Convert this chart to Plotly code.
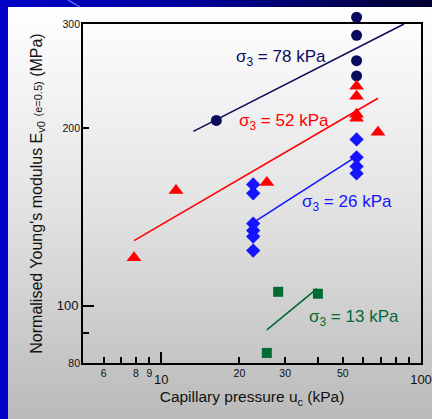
import base64
import math
import plotly.graph_objects as go

# ---- measured data: normalised small-strain Young's modulus vs capillary pressure ----
# sigma3 = 78 kPa
uc_78 = [16.3, 56.5, 56.5, 56.5, 56.5]
E_78 = [206, 308, 287, 260, 245]
fit_uc_78 = [13.3, 86.0]
fit_E_78 = [197.4, 300]

# sigma3 = 52 kPa
uc_52 = [7.86, 11.4, 25.5, 56.5, 56.5, 56.5, 56.5, 68.3]
E_52 = [120.6, 156.7, 161.7, 235.4, 226.3, 211.0, 207.7, 196.7]
fit_uc_52 = [7.86, 68.3]
fit_E_52 = [128.9, 224.6]

# sigma3 = 26 kPa
uc_26 = [22.6, 22.6, 22.6, 22.6, 22.6, 22.6, 56.5, 56.5, 56.5, 56.5]
E_26 = [160.5, 155.0, 137.8, 134.1, 131.0, 124.0, 191.3, 178.4, 172.2, 167.5]
fit_uc_26 = [22.6, 55.7]
fit_E_26 = [138.3, 178.4]

# sigma3 = 13 kPa
uc_13 = [28.2, 40.1, 25.5]
E_13 = [105.6, 104.8, 83.2]
fit_uc_13 = [25.5, 39.8]
fit_E_13 = [91.0, 106.9]

# axis ticks
x_major = [10, 100]
x_small_labels = [6, 8, 9, 20, 30, 50]
x_minor = [6, 7, 8, 9, 20, 30, 40, 50, 60, 70, 80, 90]
y_major = [100]
y_small_labels = [80, 200, 300]
y_minor = [90, 200, 300]

X_RANGE = [math.log10(5), 2.0]
Y_RANGE = [math.log10(80), math.log10(300)]

NAVY = "#0b0b5e"
RED = "#ff0000"
BLUE = "#1414ff"
GREEN = "#006b33"
FONT = "Liberation Sans, Arial, sans-serif"
TXT = "#111111"

W, H = 432, 419
L, R, T, B = 83, 11, 10, 56
FRAME_TOP = 24                      # pixel row of the top frame line
pw, ph = W - L - R, H - T - B
frame_h = H - B - FRAME_TOP
dom_top = frame_h / ph
# markers sit on a taller, hidden axis with the same scale so points above 300 stay visible
per_px = (Y_RANGE[1] - Y_RANGE[0]) / frame_h
Y_MARK_RANGE = [Y_RANGE[0], Y_RANGE[0] + ph * per_px]

fig = go.Figure()

series = [
    (uc_78, E_78, fit_uc_78, fit_E_78, NAVY, "circle", 11),
    (uc_52, E_52, fit_uc_52, fit_E_52, RED, "triangle-up", 13),
    (uc_26, E_26, fit_uc_26, fit_E_26, BLUE, "diamond", 11),
    (uc_13, E_13, fit_uc_13, fit_E_13, GREEN, "square", 10),
]
for xs, ys, fx, fy, col, sym, sz in series:
    fig.add_trace(go.Scatter(x=fx, y=fy, mode="lines", line=dict(color=col, width=1.6),
                             xaxis="x2", yaxis="y2", hoverinfo="skip", cliponaxis=False))
    fig.add_trace(go.Scatter(x=xs, y=ys, mode="markers", yaxis="y3",
                             marker=dict(color=col, symbol=sym, size=sz, line=dict(width=0)),
                             cliponaxis=False))

labels = [
    ("σ<sub>3</sub> = 78 kPa", 28.9, 263.0, NAVY),
    ("σ<sub>3</sub> = 52 kPa", 29.7, 205.0, RED),
    ("σ<sub>3</sub> = 26 kPa", 51.9, 149.5, BLUE),
    ("σ<sub>3</sub> = 13 kPa", 55.2, 95.5, GREEN),
]
for txt, lx, ly, col in labels:
    fig.add_annotation(x=math.log10(lx), y=math.log10(ly), xref="x", yref="y", text=txt,
                       showarrow=False, xanchor="center", yanchor="middle",
                       font=dict(family=FONT, size=17, color=col))

# slide-style background: blue frame with a white-to-grey panel
svg = """<svg xmlns='http://www.w3.org/2000/svg' width='432' height='419' viewBox='0 0 432 419' preserveAspectRatio='none'>
<defs>
<linearGradient id='band' x1='0' y1='0' x2='1' y2='0'>
<stop offset='0' stop-color='#0000c8'/><stop offset='0.45' stop-color='#00009a'/><stop offset='1' stop-color='#00002e'/>
</linearGradient>
<linearGradient id='panel' x1='0' y1='0' x2='0' y2='1'>
<stop offset='0' stop-color='#ffffff'/><stop offset='0.5' stop-color='#e2e2e2'/><stop offset='1' stop-color='#bababa'/>
</linearGradient>
</defs>
<rect x='0' y='0' width='432' height='419' fill='#0000c8'/>
<rect x='0' y='0' width='432' height='7' fill='url(#band)'/>
<rect x='8' y='7' width='424' height='412' fill='url(#panel)'/>
<line x1='68' y1='0' x2='80' y2='7' stroke='#5a78ff' stroke-width='1.4'/>
</svg>"""
src = "data:image/svg+xml;base64," + base64.b64encode(svg.encode()).decode()

fig.add_layout_image(dict(source=src, xref="paper", yref="paper",
                          x=-L / pw, y=1 + T / ph, sizex=W / pw, sizey=H / ph,
                          xanchor="left", yanchor="top", sizing="stretch", layer="below"))

axis_common = dict(type="log", showgrid=False, zeroline=False, automargin=False)
tick_small = dict(size=10.5, family=FONT, color=TXT)
tick_big = dict(size=13, family=FONT, color=TXT)

fig.update_layout(
    width=W, height=H,
    margin=dict(l=L, r=R, t=T, b=B, autoexpand=False),
    paper_bgcolor="#0000c8", plot_bgcolor="rgba(0,0,0,0)",
    showlegend=False, hovermode=False,
    font=dict(family=FONT, color=TXT),
    xaxis=dict(**axis_common, range=X_RANGE, anchor="y",
               tickmode="array", tickvals=x_major, ticktext=[str(v) for v in x_major],
               tickfont=tick_big, ticklabelstandoff=3,
               ticks="inside", ticklen=11, tickwidth=1.5, tickcolor="black",
               minor=dict(tickmode="array", tickvals=x_minor, ticks="inside",
                          ticklen=6, tickwidth=1.5, tickcolor="black", showgrid=False),
               showline=True, linecolor="black", linewidth=2, mirror=True,
               title=dict(text="Capillary pressure u<sub>c</sub> (kPa)",
                          font=dict(size=15.5, family=FONT, color=TXT), standoff=6)),
    xaxis2=dict(**axis_common, range=X_RANGE, overlaying="x", anchor="y", side="bottom",
                tickmode="array", tickvals=x_small_labels, ticktext=[str(v) for v in x_small_labels],
                tickfont=tick_small, ticklabelstandoff=2, ticks="", showline=False),
    yaxis=dict(**axis_common, range=Y_RANGE, domain=[0, dom_top], anchor="x",
               tickmode="array", tickvals=y_major, ticktext=[str(v) for v in y_major],
               tickfont=tick_big,
               ticks="inside", ticklen=11, tickwidth=1.5, tickcolor="black",
               minor=dict(tickmode="array", tickvals=y_minor, ticks="inside",
                          ticklen=6, tickwidth=1.5, tickcolor="black", showgrid=False),
               showline=True, linecolor="black", linewidth=2, mirror=True,
               title=dict(text="Normalised Young's modulus E<sub>v0</sub> "
                               "<span style='font-size:11px'>(e=0.5)</span> (MPa)",
                          font=dict(size=16, family=FONT, color=TXT), standoff=10)),
    yaxis2=dict(**axis_common, range=Y_RANGE, overlaying="y", anchor="x", side="left",
                tickmode="array", tickvals=y_small_labels, ticktext=[str(v) for v in y_small_labels],
                tickfont=tick_small, ticklabelstandoff=2, ticks="", showline=False),
    yaxis3=dict(**axis_common, range=Y_MARK_RANGE, domain=[0, 1], anchor="x", visible=False),
)

fig.write_html("out.html")
